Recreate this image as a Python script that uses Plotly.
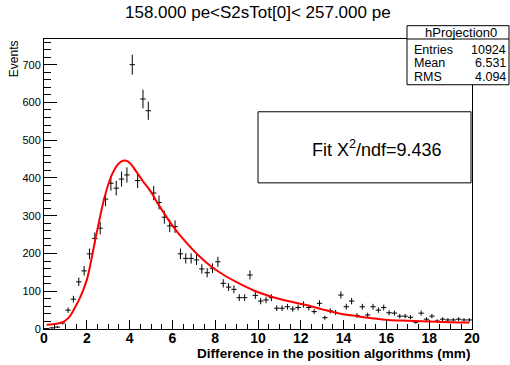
import numpy as np
import plotly.graph_objects as go

# Histogram: 80 bins of 0.25 mm from 0 to 20 mm
bin_width = 0.25
bin_centers = [0.125 + bin_width * k for k in range(80)]
counts = [
    1, 3, 5, 16, 50, 79, 125, 154, 199, 240,
    267, 344, 386, 373, 397, 408, 700, 393, 609, 578,
    360, 335, 296, 273, 271, 199, 187, 187, 183, 159,
    149, 161, 178, 121, 111, 105, 83, 83, 143, 89,
    74, 77, 83, 55, 55, 59, 53, 57, 65, 57,
    46, 68, 30, 48, 44, 90, 59, 74, 36, 59,
    37, 59, 50, 57, 43, 42, 34, 34, 31, 18,
    42, 26, 34, 21, 26, 24, 24, 26, 24, 24,
]

# Fitted curve, sampled
fit_x = [0.125, 0.5, 0.9, 1.2, 1.4, 1.7, 2.0, 2.2, 2.4, 2.6, 2.8, 3.0, 3.2, 3.4,
         3.6, 3.8, 4.0, 4.3, 4.6, 4.95, 5.4, 6.0, 6.6, 7.2, 7.8, 8.4, 9.0, 9.8,
         10.6, 11.4, 12.2, 13.0, 13.8, 14.6, 15.4, 16.1, 17.0, 18.0, 19.0, 19.875]
fit_y = [11, 13, 19, 33, 52, 85, 130, 180, 238, 292, 342, 382, 412, 432,
         443, 446, 440, 418, 393, 367, 325, 274, 232, 196, 166, 143, 124, 102,
         86, 74, 64, 52, 41, 34, 28, 24, 22, 20, 18, 17]

title_text = "158.000 pe<S2sTot[0]< 257.000 pe"
x_title = "Difference in the position algorithms (mm)"
y_title = "Events"
stats_name = "hProjection0"
stats_rows = [("Entries", "10924"), ("Mean", "6.531"), ("RMS", "4.094")]
fit_label = "Fit X<sup>2</sup>/ndf=9.436"

W, H = 510, 365
L, R, T, B = 44, 472, 39.3, 329  # frame in pixels


def px(x):
    return (x - L) / (R - L)


def py(y):
    return (B - y) / (B - T)


FONT = "Liberation Sans, Arial, sans-serif"

fig = go.Figure()

fig.add_trace(go.Scatter(
    x=bin_centers, y=counts, mode="markers",
    marker=dict(size=1, color="black", opacity=0),
    error_y=dict(type="data", array=list(np.sqrt(counts)), width=0,
                 thickness=1, color="black"),
    error_x=dict(type="constant", value=bin_width / 2, width=0,
                 thickness=1, color="black"),
    showlegend=False, hoverinfo="skip",
))

fig.add_trace(go.Scatter(
    x=fit_x, y=fit_y, mode="lines", line=dict(color="#ff0000", width=2, shape="spline"),
    showlegend=False, hoverinfo="skip",
))

fig.update_layout(
    width=W, height=H, autosize=False,
    margin=dict(l=L, r=W - R, t=T, b=H - B, pad=0),
    paper_bgcolor="white", plot_bgcolor="white",
    font=dict(family=FONT, color="black"),
)

fig.update_xaxes(
    range=[0, 20], showgrid=False, zeroline=False,
    showline=True, linecolor="black", linewidth=1, mirror=True,
    ticks="inside", ticklen=9, tickwidth=1, tickcolor="black", dtick=2, tick0=0,
    minor=dict(ticks="inside", ticklen=5, dtick=0.5, tickcolor="black", showgrid=False),
    tickfont=dict(family=FONT, size=14, weight="bold", color="black"),
    ticklabelstandoff=-4,
)
fig.update_yaxes(
    range=[0, 768], showgrid=False, zeroline=False,
    showline=True, linecolor="black", linewidth=1, mirror=True,
    ticks="inside", ticklen=13, tickwidth=1, tickcolor="black", dtick=100, tick0=0,
    minor=dict(ticks="inside", ticklen=7, dtick=20, tickcolor="black", showgrid=False),
    tickfont=dict(family=FONT, size=11, color="black"),
)

shapes = [
    # stats box
    dict(type="rect", xref="paper", yref="paper",
         x0=px(407), x1=px(509), y0=py(85), y1=py(26),
         line=dict(color="black", width=1), fillcolor="white", layer="above"),
    dict(type="line", xref="paper", yref="paper",
         x0=px(407), x1=px(509), y0=py(39.3), y1=py(39.3),
         line=dict(color="black", width=1), layer="above"),
    # fit box
    dict(type="rect", xref="paper", yref="paper",
         x0=px(258), x1=px(471), y0=py(183), y1=py(112),
         line=dict(color="black", width=1), fillcolor="white", layer="above"),
]
fig.update_layout(shapes=shapes)

ann = [
    dict(text=title_text, x=px(257.5), y=py(13), xanchor="center", yanchor="middle",
         font=dict(size=17)),
    dict(text=x_title, x=px(472), y=py(353), xanchor="right", yanchor="middle",
         font=dict(size=13.6, weight="bold")),
    dict(text=y_title, x=px(14), y=py(39), xanchor="center", yanchor="top",
         textangle=-90, font=dict(size=12)),
    dict(text=stats_name, x=px(461), y=py(32.5), xanchor="center", yanchor="middle",
         font=dict(size=13)),
    dict(text=fit_label, x=px(377), y=py(149), xanchor="center", yanchor="middle",
         font=dict(size=18)),
]
for i, (name, val) in enumerate(stats_rows):
    yy = 50 + 13.5 * i
    ann.append(dict(text=name, x=px(412), y=py(yy), xanchor="left", yanchor="middle",
                    font=dict(size=12.5)))
    ann.append(dict(text=val, x=px(508), y=py(yy), xanchor="right", yanchor="middle",
                    font=dict(size=12.5)))
for a in ann:
    a.update(xref="paper", yref="paper", showarrow=False)
    a["font"].setdefault("family", FONT)
    a["font"].setdefault("color", "black")
fig.update_layout(annotations=ann)

fig.write_html("out.html")
